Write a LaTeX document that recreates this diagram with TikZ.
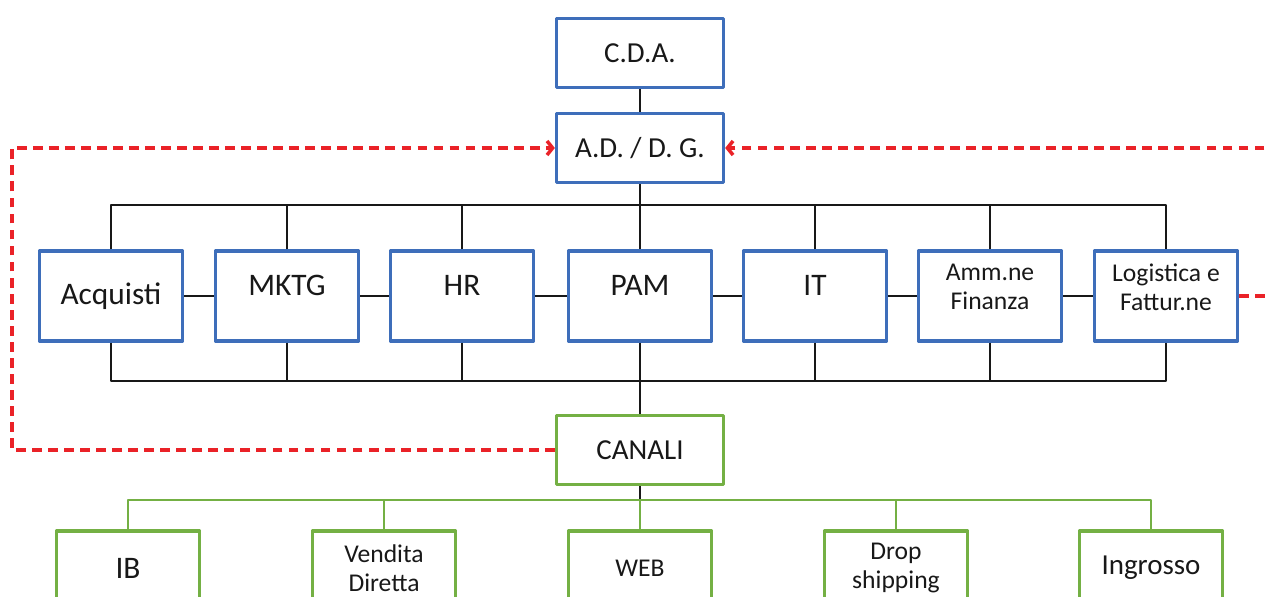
\documentclass[tikz,border=0pt]{standalone}
\usepackage{fontspec}
\setmainfont{Carlito}
\usetikzlibrary{arrows.meta}
\definecolor{boxblue}{RGB}{62,110,186}
\definecolor{boxgreen}{RGB}{116,176,68}
\definecolor{linkred}{RGB}{234,34,40}
\definecolor{ink}{RGB}{24,24,24}
\newcommand{\bigtxt}{\fontsize{22.3}{26}\selectfont}
\newcommand{\midtxt}{\fontsize{20.6}{24}\selectfont}
\newcommand{\smalltxt}{\fontsize{18.2}{20.8}\selectfont}
\begin{document}
\begin{tikzpicture}[x=0.025cm,y=-0.025cm,line join=round,>={Straight Barb[length=4pt,width=10pt]}]
	\tikzset{
		unit/.style={draw=boxblue,line width=2.3pt,align=center,inner sep=2pt,text=ink},
		head/.style={unit,minimum width=4.175cm,minimum height=1.73cm,font=\midtxt},
		dept/.style={unit,minimum width=3.575cm,minimum height=2.25cm,font=\bigtxt},
		chan/.style={unit,draw=boxgreen,minimum width=3.575cm,minimum height=1.85cm},
		raised/.style={text depth=0.55cm},
		raisedtwo/.style={text depth=0.45cm},
		link/.style={draw=ink,line width=1.7pt},
		glink/.style={draw=boxgreen,line width=2pt},
		redlink/.style={draw=linkred,line width=2.5pt,dash pattern=on 7pt off 4.4pt}
	}
	\useasboundingbox (0,0) rectangle (1267,597);
	\clip (0,0) rectangle (1267,597);
	% vertici
	\node[head] (cda) at (640,53) {C.D.A.};
	\node[head] (adg) at (640,148) {A.D. / D. G.};
	% funzioni
	\node[dept] (acq) at (111,296) {Acquisti};
	\node[dept,raised] (mktg) at (287,296) {MKTG};
	\node[dept,raised] (hr) at (462,296) {HR};
	\node[dept,raised] (pam) at (640,296) {PAM};
	\node[dept,raised] (it) at (815,296) {IT};
	\node[dept,raisedtwo,font=\smalltxt] (amm) at (990,296) {Amm.ne\\Finanza};
	\node[dept,raisedtwo,font=\smalltxt] (log) at (1166,296) {Logistica e\\Fattur.ne};
	% canali
	\node[head,draw=boxgreen] (can) at (640,450) {CANALI};
	\node[chan,font=\bigtxt] (ib) at (128,568) {IB};
	\node[chan,font=\smalltxt] (vd) at (384,568) {Vendita\\Diretta};
	\node[chan,font=\smalltxt] (web) at (640,568) {WEB};
	\node[chan,font=\smalltxt] (drop) at (896,568) {Drop\\shipping};
	\node[chan,font=\midtxt] (ing) at (1151,568) {Ingrosso};
	\coordinate (bustop) at (640,205);
	\coordinate (busbot) at (640,381);
	\coordinate (chbus) at (640,500);
	\coordinate (lft) at (12,450);
	\coordinate (rgt) at (1290,296);
	% collegamenti
	\draw[link] (cda.south) -- (adg.north);
	\draw[link] (adg.south) -- (pam.north);
	\draw[link] (acq.north) |- (bustop) -| (log.north);
	\draw[link] (acq.south) |- (busbot) -| (log.south);
	\foreach \d in {mktg,hr,it,amm}{
		\draw[link] (\d.north) -- (\d.north |- bustop);
		\draw[link] (\d.south) -- (\d.south |- busbot);
	}
	\foreach \a/\b in {acq/mktg,mktg/hr,hr/pam,pam/it,it/amm,amm/log}
		\draw[link] (\a.east) -- (\b.west);
	\draw[link] (pam.south) -- (can.north);
	\draw[link] (can.south) -- (chbus);
	\draw[glink] (ib.north) |- (chbus) -| (ing.north);
	\foreach \c in {vd,web,drop}
		\draw[glink] (\c.north) -- (\c.north |- chbus);
	% ritorni
	\draw[redlink,->] (can.west) -- (lft) |- (adg.west);
	\draw[redlink,->] (log.east) -- (rgt) |- (adg.east);
\end{tikzpicture}
\end{document}
